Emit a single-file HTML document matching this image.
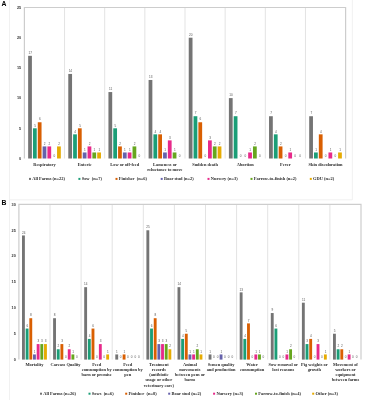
<!DOCTYPE html>
<html><head><meta charset="utf-8"><style>
html,body{margin:0;padding:0;background:#fff;}
svg{display:block;filter:blur(0.3px);}
.g{stroke:#e3e3e3;stroke-width:1;}
.f{stroke:#cdcdcd;stroke-width:1.2;fill:none;}
.o{stroke:#eeeeee;stroke-width:0.8;fill:none;}
text{font-family:"Liberation Sans",sans-serif;}
.tk{font-size:3.8px;fill:#333;font-weight:bold;text-anchor:end;}
.v{font-size:3.1px;fill:#555;text-anchor:middle;}
.c{font-family:"Liberation Serif",serif;font-weight:bold;font-size:4.4px;fill:#2a2a2a;text-anchor:middle;}
.l{font-family:"Liberation Serif",serif;font-weight:bold;font-size:4.45px;fill:#2a2a2a;}
.p{font-weight:bold;font-size:6.8px;fill:#000;}
</style></head><body>
<svg width="365" height="400" viewBox="0 0 365 400">
<rect width="365" height="400" fill="#fff"/>
<path d="M9.5 0V400M9.5 199.8H352.4V0" class="o"/>
<line x1="64.55" y1="7.50" x2="64.55" y2="158.50" class="g"/>
<line x1="104.70" y1="7.50" x2="104.70" y2="158.50" class="g"/>
<line x1="144.85" y1="7.50" x2="144.85" y2="158.50" class="g"/>
<line x1="185.00" y1="7.50" x2="185.00" y2="158.50" class="g"/>
<line x1="225.15" y1="7.50" x2="225.15" y2="158.50" class="g"/>
<line x1="265.30" y1="7.50" x2="265.30" y2="158.50" class="g"/>
<line x1="305.45" y1="7.50" x2="305.45" y2="158.50" class="g"/>
<path d="M24.40 158.50V7.50H345.60V158.50" class="f"/>
<text x="21.20" y="159.85" class="tk">0</text>
<text x="21.20" y="129.65" class="tk">5</text>
<text x="21.20" y="99.45" class="tk">10</text>
<text x="21.20" y="69.25" class="tk">15</text>
<text x="21.20" y="39.05" class="tk">20</text>
<text x="21.20" y="8.85" class="tk">25</text>
<rect x="28.14" y="55.82" width="3.76" height="102.68" fill="#747474"/>
<text x="30.22" y="54.02" class="v">17</text>
<rect x="32.96" y="128.30" width="3.76" height="30.20" fill="#1b9e77"/>
<text x="35.04" y="126.50" class="v">5</text>
<rect x="37.78" y="122.26" width="3.76" height="36.24" fill="#d95f02"/>
<text x="39.86" y="120.46" class="v">6</text>
<rect x="42.60" y="146.42" width="3.76" height="12.08" fill="#6662ab"/>
<text x="44.68" y="144.62" class="v">2</text>
<rect x="47.41" y="146.42" width="3.76" height="12.08" fill="#e7298a"/>
<text x="49.49" y="144.62" class="v">2</text>
<text x="54.31" y="156.70" class="v">0</text>
<rect x="57.05" y="146.42" width="3.76" height="12.08" fill="#e6ab02"/>
<text x="59.13" y="144.62" class="v">2</text>
<text x="44.48" y="165.50" class="c">Respiratory</text>
<rect x="68.29" y="73.94" width="3.76" height="84.56" fill="#747474"/>
<text x="70.37" y="72.14" class="v">14</text>
<rect x="73.11" y="134.34" width="3.76" height="24.16" fill="#1b9e77"/>
<text x="75.19" y="132.54" class="v">4</text>
<rect x="77.93" y="128.30" width="3.76" height="30.20" fill="#d95f02"/>
<text x="80.01" y="126.50" class="v">5</text>
<rect x="82.75" y="152.46" width="3.76" height="6.04" fill="#6662ab"/>
<text x="84.83" y="150.66" class="v">1</text>
<rect x="87.56" y="146.42" width="3.76" height="12.08" fill="#e7298a"/>
<text x="89.64" y="144.62" class="v">2</text>
<rect x="92.38" y="152.46" width="3.76" height="6.04" fill="#66a61e"/>
<text x="94.46" y="150.66" class="v">1</text>
<rect x="97.20" y="152.46" width="3.76" height="6.04" fill="#e6ab02"/>
<text x="99.28" y="150.66" class="v">1</text>
<text x="84.63" y="165.50" class="c">Enteric</text>
<rect x="108.44" y="92.06" width="3.76" height="66.44" fill="#747474"/>
<text x="110.52" y="90.26" class="v">11</text>
<rect x="113.26" y="128.30" width="3.76" height="30.20" fill="#1b9e77"/>
<text x="115.34" y="126.50" class="v">5</text>
<rect x="118.08" y="146.42" width="3.76" height="12.08" fill="#d95f02"/>
<text x="120.16" y="144.62" class="v">2</text>
<rect x="122.90" y="152.46" width="3.76" height="6.04" fill="#6662ab"/>
<text x="124.98" y="150.66" class="v">1</text>
<rect x="127.71" y="152.46" width="3.76" height="6.04" fill="#e7298a"/>
<text x="129.79" y="150.66" class="v">1</text>
<rect x="132.53" y="146.42" width="3.76" height="12.08" fill="#66a61e"/>
<text x="134.61" y="144.62" class="v">2</text>
<text x="139.43" y="156.70" class="v">0</text>
<text x="124.78" y="165.50" class="c">Low or off-feed</text>
<rect x="148.59" y="79.98" width="3.76" height="78.52" fill="#747474"/>
<text x="150.67" y="78.18" class="v">13</text>
<rect x="153.41" y="134.34" width="3.76" height="24.16" fill="#1b9e77"/>
<text x="155.49" y="132.54" class="v">4</text>
<rect x="158.23" y="134.34" width="3.76" height="24.16" fill="#d95f02"/>
<text x="160.31" y="132.54" class="v">4</text>
<rect x="163.05" y="152.46" width="3.76" height="6.04" fill="#6662ab"/>
<text x="165.12" y="150.66" class="v">1</text>
<rect x="167.86" y="140.38" width="3.76" height="18.12" fill="#e7298a"/>
<text x="169.94" y="138.58" class="v">3</text>
<rect x="172.68" y="152.46" width="3.76" height="6.04" fill="#66a61e"/>
<text x="174.76" y="150.66" class="v">1</text>
<text x="179.58" y="156.70" class="v">0</text>
<text x="164.93" y="165.50" class="c">Lameness or</text>
<text x="164.93" y="170.55" class="c">reluctance to move</text>
<rect x="188.74" y="37.70" width="3.76" height="120.80" fill="#747474"/>
<text x="190.82" y="35.90" class="v">20</text>
<rect x="193.56" y="116.22" width="3.76" height="42.28" fill="#1b9e77"/>
<text x="195.64" y="114.42" class="v">7</text>
<rect x="198.38" y="122.26" width="3.76" height="36.24" fill="#d95f02"/>
<text x="200.46" y="120.46" class="v">6</text>
<text x="205.28" y="156.70" class="v">0</text>
<rect x="208.01" y="140.38" width="3.76" height="18.12" fill="#e7298a"/>
<text x="210.09" y="138.58" class="v">3</text>
<rect x="212.83" y="146.42" width="3.76" height="12.08" fill="#66a61e"/>
<text x="214.91" y="144.62" class="v">2</text>
<rect x="217.65" y="146.42" width="3.76" height="12.08" fill="#e6ab02"/>
<text x="219.73" y="144.62" class="v">2</text>
<text x="205.08" y="165.50" class="c">Sudden death</text>
<rect x="228.89" y="98.10" width="3.76" height="60.40" fill="#747474"/>
<text x="230.97" y="96.30" class="v">10</text>
<rect x="233.71" y="116.22" width="3.76" height="42.28" fill="#1b9e77"/>
<text x="235.79" y="114.42" class="v">7</text>
<text x="240.61" y="156.70" class="v">0</text>
<text x="245.43" y="156.70" class="v">0</text>
<rect x="248.16" y="152.46" width="3.76" height="6.04" fill="#e7298a"/>
<text x="250.24" y="150.66" class="v">1</text>
<rect x="252.98" y="146.42" width="3.76" height="12.08" fill="#66a61e"/>
<text x="255.06" y="144.62" class="v">2</text>
<text x="259.88" y="156.70" class="v">0</text>
<text x="245.23" y="165.50" class="c">Abortion</text>
<rect x="269.04" y="116.22" width="3.76" height="42.28" fill="#747474"/>
<text x="271.12" y="114.42" class="v">7</text>
<rect x="273.86" y="134.34" width="3.76" height="24.16" fill="#1b9e77"/>
<text x="275.94" y="132.54" class="v">4</text>
<rect x="278.68" y="146.42" width="3.76" height="12.08" fill="#d95f02"/>
<text x="280.76" y="144.62" class="v">2</text>
<text x="285.57" y="156.70" class="v">0</text>
<rect x="288.31" y="152.46" width="3.76" height="6.04" fill="#e7298a"/>
<text x="290.39" y="150.66" class="v">1</text>
<text x="295.21" y="156.70" class="v">0</text>
<text x="300.03" y="156.70" class="v">0</text>
<text x="285.38" y="165.50" class="c">Fever</text>
<rect x="309.19" y="116.22" width="3.76" height="42.28" fill="#747474"/>
<text x="311.27" y="114.42" class="v">7</text>
<rect x="314.01" y="152.46" width="3.76" height="6.04" fill="#1b9e77"/>
<text x="316.09" y="150.66" class="v">1</text>
<rect x="318.83" y="134.34" width="3.76" height="24.16" fill="#d95f02"/>
<text x="320.91" y="132.54" class="v">4</text>
<text x="325.73" y="156.70" class="v">0</text>
<rect x="328.46" y="152.46" width="3.76" height="6.04" fill="#e7298a"/>
<text x="330.54" y="150.66" class="v">1</text>
<text x="335.36" y="156.70" class="v">0</text>
<rect x="338.10" y="152.46" width="3.76" height="6.04" fill="#e6ab02"/>
<text x="340.18" y="150.66" class="v">1</text>
<text x="325.53" y="165.50" class="c">Skin discoloration</text>
<rect x="29.00" y="177.90" width="2" height="2" fill="#747474"/>
<text x="32.30" y="180.40" class="l">All Farms (n=22)</text>
<rect x="78.40" y="177.90" width="2" height="2" fill="#1b9e77"/>
<text x="81.70" y="180.40" class="l">Sow  (n=7)</text>
<rect x="115.50" y="177.90" width="2" height="2" fill="#d95f02"/>
<text x="118.80" y="180.40" class="l">Finisher  (n=6)</text>
<rect x="160.70" y="177.90" width="2" height="2" fill="#6662ab"/>
<text x="164.00" y="180.40" class="l">Boar stud (n=2)</text>
<rect x="207.50" y="177.90" width="2" height="2" fill="#e7298a"/>
<text x="210.80" y="180.40" class="l">Nursery (n=3)</text>
<rect x="250.50" y="177.90" width="2" height="2" fill="#66a61e"/>
<text x="253.80" y="180.40" class="l">Farrow-to-finish (n=2)</text>
<rect x="309.80" y="177.90" width="2" height="2" fill="#e6ab02"/>
<text x="313.10" y="180.40" class="l">GDU (n=2)</text>
<line x1="50.00" y1="204.40" x2="50.00" y2="359.60" class="g"/>
<line x1="81.10" y1="204.40" x2="81.10" y2="359.60" class="g"/>
<line x1="112.20" y1="204.40" x2="112.20" y2="359.60" class="g"/>
<line x1="143.30" y1="204.40" x2="143.30" y2="359.60" class="g"/>
<line x1="174.40" y1="204.40" x2="174.40" y2="359.60" class="g"/>
<line x1="205.50" y1="204.40" x2="205.50" y2="359.60" class="g"/>
<line x1="236.60" y1="204.40" x2="236.60" y2="359.60" class="g"/>
<line x1="267.70" y1="204.40" x2="267.70" y2="359.60" class="g"/>
<line x1="298.80" y1="204.40" x2="298.80" y2="359.60" class="g"/>
<line x1="329.90" y1="204.40" x2="329.90" y2="359.60" class="g"/>
<path d="M18.90 359.60V204.40H361.00V359.60" class="f"/>
<text x="15.80" y="360.95" class="tk">0</text>
<text x="15.80" y="335.08" class="tk">5</text>
<text x="15.80" y="309.22" class="tk">10</text>
<text x="15.80" y="283.35" class="tk">15</text>
<text x="15.80" y="257.48" class="tk">20</text>
<text x="15.80" y="231.62" class="tk">25</text>
<text x="15.80" y="205.75" class="tk">30</text>
<rect x="22.01" y="235.44" width="2.86" height="124.16" fill="#747474"/>
<text x="23.64" y="233.64" class="v">24</text>
<rect x="25.68" y="328.56" width="2.86" height="31.04" fill="#1b9e77"/>
<text x="27.31" y="326.76" class="v">6</text>
<rect x="29.35" y="318.21" width="2.86" height="41.39" fill="#d95f02"/>
<text x="30.98" y="316.41" class="v">8</text>
<rect x="33.02" y="354.43" width="2.86" height="5.17" fill="#6662ab"/>
<text x="34.65" y="352.63" class="v">1</text>
<rect x="36.69" y="344.08" width="2.86" height="15.52" fill="#e7298a"/>
<text x="38.32" y="342.28" class="v">3</text>
<rect x="40.36" y="344.08" width="2.86" height="15.52" fill="#66a61e"/>
<text x="41.99" y="342.28" class="v">3</text>
<rect x="44.03" y="344.08" width="2.86" height="15.52" fill="#e6ab02"/>
<text x="45.66" y="342.28" class="v">3</text>
<text x="34.45" y="366.30" class="c">Mortality</text>
<rect x="53.11" y="318.21" width="2.86" height="41.39" fill="#747474"/>
<text x="54.74" y="316.41" class="v">8</text>
<rect x="56.78" y="349.25" width="2.86" height="10.35" fill="#1b9e77"/>
<text x="58.41" y="347.45" class="v">2</text>
<rect x="60.45" y="344.08" width="2.86" height="15.52" fill="#d95f02"/>
<text x="62.08" y="342.28" class="v">3</text>
<text x="65.75" y="357.80" class="v">0</text>
<rect x="67.79" y="349.25" width="2.86" height="10.35" fill="#e7298a"/>
<text x="69.42" y="347.45" class="v">2</text>
<rect x="71.46" y="354.43" width="2.86" height="5.17" fill="#66a61e"/>
<text x="73.09" y="352.63" class="v">1</text>
<text x="76.76" y="357.80" class="v">0</text>
<text x="65.55" y="366.30" class="c">Carcass Quality</text>
<rect x="84.21" y="287.17" width="2.86" height="72.43" fill="#747474"/>
<text x="85.84" y="285.37" class="v">14</text>
<rect x="87.88" y="338.91" width="2.86" height="20.69" fill="#1b9e77"/>
<text x="89.51" y="337.11" class="v">4</text>
<rect x="91.55" y="328.56" width="2.86" height="31.04" fill="#d95f02"/>
<text x="93.18" y="326.76" class="v">6</text>
<text x="96.85" y="357.80" class="v">0</text>
<rect x="98.89" y="344.08" width="2.86" height="15.52" fill="#e7298a"/>
<text x="100.52" y="342.28" class="v">3</text>
<text x="104.19" y="357.80" class="v">0</text>
<rect x="106.23" y="354.43" width="2.86" height="5.17" fill="#e6ab02"/>
<text x="107.86" y="352.63" class="v">1</text>
<text x="96.65" y="366.30" class="c">Feed</text>
<text x="96.65" y="371.35" class="c">consumption by</text>
<text x="96.65" y="376.40" class="c">barn or premise</text>
<rect x="115.31" y="354.43" width="2.86" height="5.17" fill="#747474"/>
<text x="116.94" y="352.63" class="v">1</text>
<text x="120.61" y="357.80" class="v">0</text>
<rect x="122.65" y="354.43" width="2.86" height="5.17" fill="#d95f02"/>
<text x="124.28" y="352.63" class="v">1</text>
<text x="127.95" y="357.80" class="v">0</text>
<text x="131.62" y="357.80" class="v">0</text>
<text x="135.29" y="357.80" class="v">0</text>
<text x="138.96" y="357.80" class="v">0</text>
<text x="127.75" y="366.30" class="c">Feed</text>
<text x="127.75" y="371.35" class="c">consumption by</text>
<text x="127.75" y="376.40" class="c">pen</text>
<rect x="146.41" y="230.27" width="2.86" height="129.33" fill="#747474"/>
<text x="148.04" y="228.47" class="v">25</text>
<rect x="150.08" y="328.56" width="2.86" height="31.04" fill="#1b9e77"/>
<text x="151.71" y="326.76" class="v">6</text>
<rect x="153.75" y="318.21" width="2.86" height="41.39" fill="#d95f02"/>
<text x="155.38" y="316.41" class="v">8</text>
<rect x="157.42" y="344.08" width="2.86" height="15.52" fill="#6662ab"/>
<text x="159.05" y="342.28" class="v">3</text>
<rect x="161.09" y="344.08" width="2.86" height="15.52" fill="#e7298a"/>
<text x="162.72" y="342.28" class="v">3</text>
<rect x="164.76" y="344.08" width="2.86" height="15.52" fill="#66a61e"/>
<text x="166.39" y="342.28" class="v">3</text>
<rect x="168.43" y="349.25" width="2.86" height="10.35" fill="#e6ab02"/>
<text x="170.06" y="347.45" class="v">2</text>
<text x="158.85" y="366.30" class="c">Treatment</text>
<text x="158.85" y="371.35" class="c">records</text>
<text x="158.85" y="376.40" class="c">(antibiotic</text>
<text x="158.85" y="381.45" class="c">usage or other</text>
<text x="158.85" y="386.50" class="c">veterinary care)</text>
<rect x="177.51" y="287.17" width="2.86" height="72.43" fill="#747474"/>
<text x="179.14" y="285.37" class="v">14</text>
<rect x="181.18" y="338.91" width="2.86" height="20.69" fill="#1b9e77"/>
<text x="182.81" y="337.11" class="v">4</text>
<rect x="184.85" y="333.73" width="2.86" height="25.87" fill="#d95f02"/>
<text x="186.48" y="331.93" class="v">5</text>
<rect x="188.52" y="354.43" width="2.86" height="5.17" fill="#6662ab"/>
<text x="190.15" y="352.63" class="v">1</text>
<rect x="192.19" y="354.43" width="2.86" height="5.17" fill="#e7298a"/>
<text x="193.82" y="352.63" class="v">1</text>
<rect x="195.86" y="349.25" width="2.86" height="10.35" fill="#66a61e"/>
<text x="197.49" y="347.45" class="v">2</text>
<rect x="199.53" y="354.43" width="2.86" height="5.17" fill="#e6ab02"/>
<text x="201.16" y="352.63" class="v">1</text>
<text x="189.95" y="366.30" class="c">Animal</text>
<text x="189.95" y="371.35" class="c">movements</text>
<text x="189.95" y="376.40" class="c">between pens or</text>
<text x="189.95" y="381.45" class="c">barns</text>
<rect x="208.61" y="354.43" width="2.86" height="5.17" fill="#747474"/>
<text x="210.24" y="352.63" class="v">1</text>
<text x="213.91" y="357.80" class="v">0</text>
<text x="217.58" y="357.80" class="v">0</text>
<rect x="219.62" y="354.43" width="2.86" height="5.17" fill="#6662ab"/>
<text x="221.25" y="352.63" class="v">1</text>
<text x="224.92" y="357.80" class="v">0</text>
<text x="228.59" y="357.80" class="v">0</text>
<text x="232.26" y="357.80" class="v">0</text>
<text x="221.05" y="366.30" class="c">Semen quality</text>
<text x="221.05" y="371.35" class="c">and production</text>
<rect x="239.71" y="292.35" width="2.86" height="67.25" fill="#747474"/>
<text x="241.34" y="290.55" class="v">13</text>
<rect x="243.38" y="338.91" width="2.86" height="20.69" fill="#1b9e77"/>
<text x="245.01" y="337.11" class="v">4</text>
<rect x="247.05" y="323.39" width="2.86" height="36.21" fill="#d95f02"/>
<text x="248.68" y="321.59" class="v">7</text>
<text x="252.35" y="357.80" class="v">0</text>
<rect x="254.39" y="354.43" width="2.86" height="5.17" fill="#e7298a"/>
<text x="256.02" y="352.63" class="v">1</text>
<rect x="258.06" y="354.43" width="2.86" height="5.17" fill="#66a61e"/>
<text x="259.69" y="352.63" class="v">1</text>
<text x="263.36" y="357.80" class="v">0</text>
<text x="252.15" y="366.30" class="c">Water</text>
<text x="252.15" y="371.35" class="c">consumption</text>
<rect x="270.81" y="313.04" width="2.86" height="46.56" fill="#747474"/>
<text x="272.44" y="311.24" class="v">9</text>
<rect x="274.48" y="328.56" width="2.86" height="31.04" fill="#1b9e77"/>
<text x="276.11" y="326.76" class="v">6</text>
<text x="279.78" y="357.80" class="v">0</text>
<text x="283.45" y="357.80" class="v">0</text>
<rect x="285.49" y="354.43" width="2.86" height="5.17" fill="#e7298a"/>
<text x="287.12" y="352.63" class="v">1</text>
<rect x="289.16" y="349.25" width="2.86" height="10.35" fill="#66a61e"/>
<text x="290.79" y="347.45" class="v">2</text>
<text x="294.46" y="357.80" class="v">0</text>
<text x="283.25" y="366.30" class="c">Sow removal or</text>
<text x="283.25" y="371.35" class="c">lost reasons</text>
<rect x="301.91" y="302.69" width="2.86" height="56.91" fill="#747474"/>
<text x="303.54" y="300.89" class="v">11</text>
<rect x="305.58" y="344.08" width="2.86" height="15.52" fill="#1b9e77"/>
<text x="307.21" y="342.28" class="v">3</text>
<rect x="309.25" y="338.91" width="2.86" height="20.69" fill="#d95f02"/>
<text x="310.88" y="337.11" class="v">4</text>
<text x="314.55" y="357.80" class="v">0</text>
<rect x="316.59" y="344.08" width="2.86" height="15.52" fill="#e7298a"/>
<text x="318.22" y="342.28" class="v">3</text>
<text x="321.89" y="357.80" class="v">0</text>
<rect x="323.93" y="354.43" width="2.86" height="5.17" fill="#e6ab02"/>
<text x="325.56" y="352.63" class="v">1</text>
<text x="314.35" y="366.30" class="c">Pig weights or</text>
<text x="314.35" y="371.35" class="c">growth</text>
<rect x="333.01" y="333.73" width="2.86" height="25.87" fill="#747474"/>
<text x="334.64" y="331.93" class="v">5</text>
<rect x="336.68" y="349.25" width="2.86" height="10.35" fill="#1b9e77"/>
<text x="338.31" y="347.45" class="v">2</text>
<rect x="340.35" y="349.25" width="2.86" height="10.35" fill="#d95f02"/>
<text x="341.98" y="347.45" class="v">2</text>
<text x="345.65" y="357.80" class="v">0</text>
<rect x="347.69" y="354.43" width="2.86" height="5.17" fill="#e7298a"/>
<text x="349.32" y="352.63" class="v">1</text>
<text x="352.99" y="357.80" class="v">0</text>
<text x="356.66" y="357.80" class="v">0</text>
<text x="345.45" y="366.30" class="c">Movement of</text>
<text x="345.45" y="371.35" class="c">workers or</text>
<text x="345.45" y="376.40" class="c">equipment</text>
<text x="345.45" y="381.45" class="c">between farms</text>
<rect x="40.00" y="392.70" width="2" height="2" fill="#747474"/>
<text x="43.30" y="395.20" class="l">All Farms (n=26)</text>
<rect x="88.50" y="392.70" width="2" height="2" fill="#1b9e77"/>
<text x="91.80" y="395.20" class="l">Sows  (n=6)</text>
<rect x="125.20" y="392.70" width="2" height="2" fill="#d95f02"/>
<text x="128.50" y="395.20" class="l">Finisher  (n=8)</text>
<rect x="168.20" y="392.70" width="2" height="2" fill="#6662ab"/>
<text x="171.50" y="395.20" class="l">Boar stud (n=2)</text>
<rect x="213.10" y="392.70" width="2" height="2" fill="#e7298a"/>
<text x="216.40" y="395.20" class="l">Nursery (n=3)</text>
<rect x="255.00" y="392.70" width="2" height="2" fill="#66a61e"/>
<text x="258.30" y="395.20" class="l">Farrow-to-finish (n=4)</text>
<rect x="312.20" y="392.70" width="2" height="2" fill="#e6ab02"/>
<text x="315.50" y="395.20" class="l">Other (n=3)</text>
<text x="1.4" y="6.0" class="p">A</text>
<text x="1.4" y="204.9" class="p">B</text>
</svg>
</body></html>
